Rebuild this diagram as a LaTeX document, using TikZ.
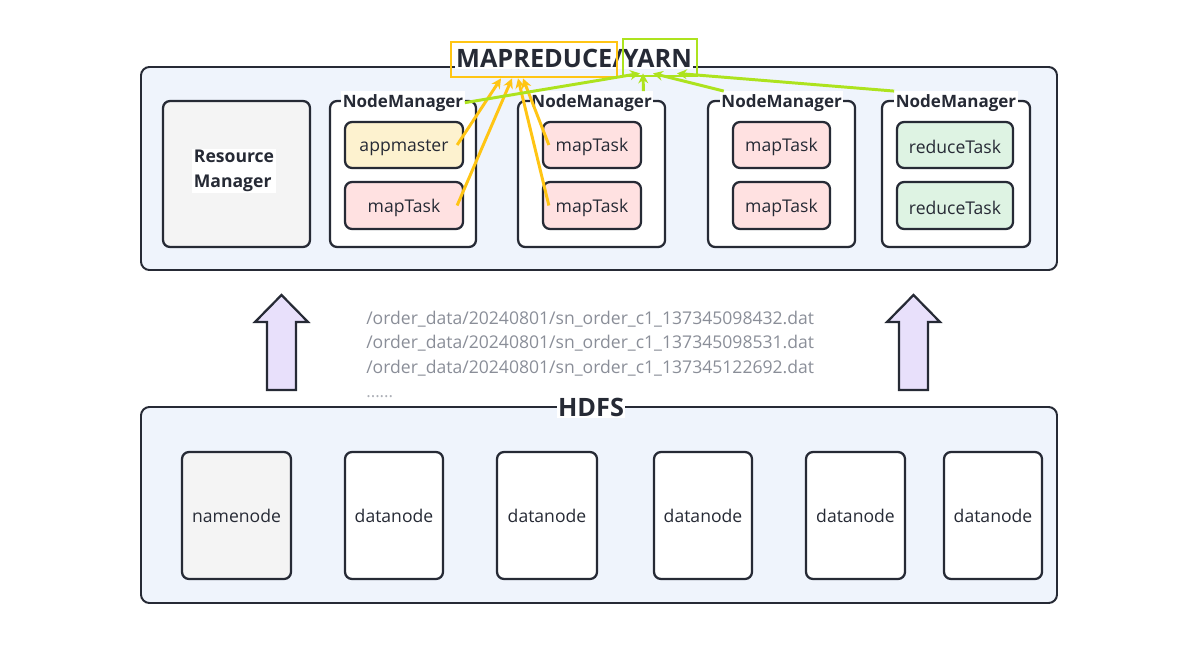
\documentclass[tikz,border=0pt]{standalone}
\usepackage{fontspec}
\setmainfont{Open Sans}
\usetikzlibrary{positioning, arrows.meta}
\definecolor{ink}{HTML}{262A35}
\definecolor{panelblue}{HTML}{EFF4FC}
\definecolor{paper}{HTML}{F4F4F4}
\definecolor{amtan}{HTML}{FDF2CF}
\definecolor{maprose}{HTML}{FFE1E1}
\definecolor{redmint}{HTML}{DEF3E3}
\definecolor{lavender}{HTML}{E8E0FB}
\definecolor{mrgold}{HTML}{FFC514}
\definecolor{yarnlime}{HTML}{ADE31E}
\definecolor{pathgrey}{HTML}{8A8E98}

\tikzset{
  panel/.style={draw=ink, line width=1.4pt, rounded corners=6pt, fill=panelblue,
    minimum width=22.9cm},
  hostbox/.style={draw=ink, line width=1.6pt, rounded corners=5pt, fill=white,
    minimum height=3.65cm},
  storebox/.style={draw=ink, line width=1.6pt, rounded corners=5pt, fill=white,
    minimum height=3.175cm, text=ink, font=\fontsize{12.5}{15}\selectfont},
  taskbox/.style={draw=ink, line width=1.6pt, rounded corners=5pt, text=ink,
    text height=1.25em, font=\fontsize{12.5}{15}\selectfont},
  nmlabel/.style={fill=white, text=ink, font=\bfseries\fontsize{12.1}{15}\selectfont,
    inner xsep=1pt, inner ysep=2pt},
  bigtitle/.style={fill=white, text=ink, font=\bfseries\fontsize{18}{22}\selectfont,
    inner sep=1pt},
  tagbox/.style={line width=2pt, inner sep=0pt},
  pathline/.style={text=pathgrey, anchor=west, inner sep=0pt,
    font=\fontsize{12.5}{14}\selectfont},
  mrflow/.style={draw=mrgold, line width=2.1pt, -{Stealth[length=7pt,width=7pt]}},
  yarnflow/.style={draw=yarnlime, line width=2.1pt, -{Stealth[length=7pt,width=7pt]}},
}

\begin{document}
\begin{tikzpicture}
  \useasboundingbox (0,0) rectangle (30.075,16.325);

  % YARN-Ebene
  \node[panel, minimum height=5.075cm] (yarnpanel) at (14.975,12.1125) {};
  \node[bigtitle] (title) at (14.35,14.875) {MAPREDUCE/YARN};
  \node[tagbox, draw=mrgold, minimum width=4.15cm, minimum height=0.875cm] (mr) at (13.35,14.8375) {};
  \node[tagbox, draw=yarnlime, minimum width=1.85cm, minimum height=0.925cm] (yarn) at (16.5,14.8875) {};

  \node[hostbox, fill=paper, minimum width=3.675cm] (rm) at (5.9125,11.975) {};
  \node[fill=white, text=ink, align=left, inner sep=1pt,
        font=\bfseries\fontsize{12.5}{17.5}\selectfont] (rmtext) at (5.85,12.05) {Resource\\Manager};

  \node[hostbox, minimum width=3.65cm]  (nm1) at (10.075,11.975) {};
  \node[hostbox, minimum width=3.675cm] (nm2) at (14.79,11.975) {};
  \node[hostbox, minimum width=3.675cm] (nm3) at (19.54,11.975) {};
  \node[hostbox, minimum width=3.7cm]   (nm4) at (23.9,11.975) {};
  \node[nmlabel] (nm1lbl) at ([yshift=-0.07cm]nm1.north) {NodeManager};
  \node[nmlabel] (nm2lbl) at ([yshift=-0.07cm]nm2.north) {NodeManager};
  \node[nmlabel] (nm3lbl) at ([yshift=-0.07cm]nm3.north) {NodeManager};
  \node[nmlabel] (nm4lbl) at ([yshift=-0.07cm]nm4.north) {NodeManager};

  \node[taskbox, fill=amtan, minimum width=2.95cm, minimum height=1.15cm] (appmaster) at (10.1,12.7) {appmaster};
  \node[taskbox, fill=maprose, minimum width=2.95cm, minimum height=1.175cm] (mapa) at (10.1,11.1875) {mapTask};
  \node[taskbox, fill=maprose, minimum width=2.45cm, minimum height=1.15cm] (mapb) at (14.8,12.7) {mapTask};
  \node[taskbox, fill=maprose, minimum width=2.45cm, minimum height=1.175cm] (mapc) at (14.8,11.1875) {mapTask};
  \node[taskbox, fill=maprose, minimum width=2.425cm, minimum height=1.15cm] (mapd) at (19.5375,12.7) {mapTask};
  \node[taskbox, fill=maprose, minimum width=2.425cm, minimum height=1.175cm] (mape) at (19.5375,11.1875) {mapTask};
  \node[taskbox, fill=redmint, minimum width=2.9cm, minimum height=1.15cm] (reda) at (23.875,12.7) {reduceTask};
  \node[taskbox, fill=redmint, minimum width=2.9cm, minimum height=1.175cm] (redb) at (23.875,11.1875) {reduceTask};

  % Meldungen an MAPREDUCE / YARN
  \draw[mrflow] ([xshift=-0.175cm]appmaster.east) -- ([xshift=-0.825cm]mr.south);
  \draw[mrflow] ([xshift=-0.175cm]mapa.east) -- ([xshift=-0.55cm]mr.south);
  \draw[mrflow] ([xshift=0.175cm]mapb.west) -- ([xshift=-0.275cm]mr.south);
  \draw[mrflow] ([xshift=0.175cm]mapc.west) -- ([xshift=-0.4cm]mr.south);
  \draw[yarnflow] (nm1lbl.east) -- ([xshift=-0.5cm,yshift=0.1cm]yarn.south);
  \draw[yarnflow] ([xshift=-0.25cm]nm2lbl.north east) -- ([xshift=-0.425cm,yshift=0.1cm]yarn.south);
  \draw[yarnflow] ([xshift=0.1cm]nm3lbl.north west) -- ([xshift=-0.175cm,yshift=0.1cm]yarn.south);
  \draw[yarnflow] (nm4lbl.north west) -- ([xshift=0.425cm,yshift=0.1cm]yarn.south);

  % Blockpfeile HDFS -> YARN
  \draw[ink, line width=1.6pt, fill=lavender]
    (7.0375,8.95) -- (7.7,8.275) -- (7.4,8.275) -- (7.4,6.575) -- (6.675,6.575)
    -- (6.675,8.275) -- (6.375,8.275) -- cycle;
  \draw[ink, line width=1.6pt, fill=lavender]
    (22.8375,8.95) -- (23.5,8.275) -- (23.2,8.275) -- (23.2,6.575) -- (22.475,6.575)
    -- (22.475,8.275) -- (22.175,8.275) -- cycle;

  \node[pathline] (file1) at (9.15,8.35) {/order\_data/20240801/sn\_order\_c1\_137345098432.dat};
  \node[pathline] (file2) at (9.15,7.75) {/order\_data/20240801/sn\_order\_c1\_137345098531.dat};
  \node[pathline] (file3) at (9.15,7.125) {/order\_data/20240801/sn\_order\_c1\_137345122692.dat};
  \node[pathline, text=pathgrey!70, font=\fontsize{12}{14}\selectfont] (file4) at (9.15,6.4) {......};

  % HDFS-Ebene
  \node[panel, minimum height=4.9cm] (hdfspanel) at (14.975,3.7) {};
  \node[bigtitle] (hdfslbl) at (14.775,6.15) {HDFS};
  \node[storebox, fill=paper, minimum width=2.725cm] (namenode) at (5.9125,3.4375) {namenode};
  \node[storebox, minimum width=2.45cm]  (dn1) at (9.85,3.4375) {datanode};
  \node[storebox, minimum width=2.5cm]   (dn2) at (13.675,3.4375) {datanode};
  \node[storebox, minimum width=2.45cm]  (dn3) at (17.575,3.4375) {datanode};
  \node[storebox, minimum width=2.475cm] (dn4) at (21.3875,3.4375) {datanode};
  \node[storebox, minimum width=2.45cm]  (dn5) at (24.825,3.4375) {datanode};
\end{tikzpicture}
\end{document}
